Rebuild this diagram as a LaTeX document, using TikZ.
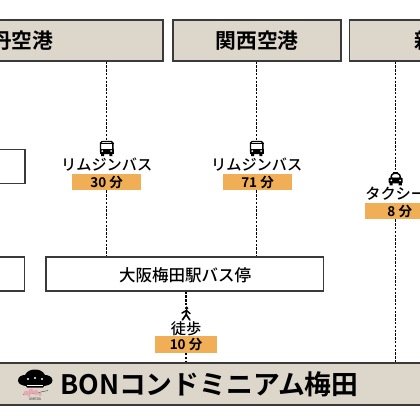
\documentclass[tikz,border=0pt]{standalone}
\usepackage{fontspec}
\setmainfont{Noto Sans CJK JP}[BoldFont={Noto Sans CJK JP Bold}]
\newfontfamily\mediumfont{Noto Sans CJK JP Medium}
\usetikzlibrary{positioning}
\definecolor{sandfill}{HTML}{DDD6CA}
\definecolor{timefill}{HTML}{F0AE56}
\definecolor{edgegray}{HTML}{3A3A3A}
\definecolor{blossom}{HTML}{E9A9B4}
\tikzset{
  airportbox/.style={draw=edgegray, fill=sandfill, line width=1.2pt, minimum height=41pt, inner sep=0pt},
  airportname/.style={text=black, font=\bfseries\fontsize{20.8}{24}\selectfont, inner sep=0pt},
  stopbox/.style={draw=edgegray, fill=white, line width=1.1pt, minimum height=34pt, inner sep=0pt},
  modename/.style={text=black, font=\mediumfont\fontsize{15.2}{18}\selectfont, inner sep=0pt},
  timebox/.style={fill=timefill, minimum width=69.5pt, minimum height=16.5pt, inner sep=0pt, text=black, font=\bfseries\fontsize{13.5}{16}\selectfont},
  iconspot/.style={minimum width=14pt, minimum height=14pt, inner sep=0pt},
  dashline/.style={draw=black, line width=1.1pt, dash pattern=on 2.4pt off 1.4pt},
  busicon/.pic={
    \draw[fill=white, draw=black, line width=1.4pt, rounded corners=1.5pt] (-6.2,-7) rectangle (6.2,5);
    \fill[black] (-6.8,0.8) -- (6.8,0.8) -- (6.8,5) -- (-6.8,5) -- cycle;
    \fill[black] (-7,-5.8) rectangle (7,-4.6);
    \fill[white] (-4.4,2.6) circle (1) (4.4,2.6) circle (1);
    \fill[black] (-5.6,5) rectangle (-2.6,7.5) (2.6,5) rectangle (5.6,7.5);
  },
  taxiicon/.pic={
    \fill[black] (-2.4,-7) rectangle (2.4,-4.6);
    \draw[fill=white, draw=black, line width=1.4pt, rounded corners=1.5pt] (-5,0) -- (-3.6,-5) -- (3.6,-5) -- (5,0) -- cycle;
    \fill[black, rounded corners=1pt] (-7,-0.8) rectangle (7,4.8);
    \fill[white] (-4.4,1.9) circle (1) (4.4,1.9) circle (1);
    \fill[black] (-6.2,4) rectangle (-3,6.8) (3,4) rectangle (6.2,6.8);
  },
  walkicon/.pic={
    \fill[black] (0.6,-5.4) circle (1.8);
    \draw[black, line width=1.5pt, line join=round, line cap=round] (-4,-0.4) -- (0.4,-3) -- (4,0);
    \draw[black, line width=1.7pt, line join=round, line cap=round] (0.4,-3) -- (0.2,1) -- (-3.6,6.4);
    \draw[black, line width=1.7pt, line join=round, line cap=round] (0.2,1) -- (3.8,6.4);
  },
}
\begin{document}
\begin{tikzpicture}[x=1pt, y=-1pt]
    \clip (0,0) rectangle (420,420);
    % top row
    \node[airportbox, minimum width=303pt] (itami) at (11.5,40.5) {};
    \node[airportbox, minimum width=168pt] (kansai) at (257,40.5) {};
    \node[airportbox, minimum width=213pt] (shinosaka) at (456,40.5) {};
    \node[airportname] (itaminame) at (12,41) {伊丹空港};
    \node[airportname] (kansainame) at (257,41) {関西空港};
    \node[airportname] (shinosakaname) at (456,41) {新大阪駅};
    % stops
    \node[stopbox, minimum width=100pt] (upperstop) at (-25,166.5) {};
    \node[stopbox, minimum width=100pt] (lowerstop) at (-25.5,274) {};
    \node[stopbox, minimum width=277.5pt] (busstop) at (184.75,274) {};
    \node[text=black, font=\mediumfont\fontsize{16.5}{20}\selectfont, inner sep=0pt] (busstopname) at (185,275) {大阪梅田駅バス停};
    % bottom bar
    \node[airportbox, minimum width=450pt, minimum height=42pt] (bon) at (210,384) {};
    \node[text=black, font=\bfseries\fontsize{26.8}{30}\selectfont, inner sep=0pt, anchor=west] (bonname) at (60,384.5) {BONコンドミニアム梅田};
    % routes
    \node[iconspot] (itamibus) at (106.7,148.5) {};
    \node[modename] (itamimode) at (106.7,165) {リムジンバス};
    \node[timebox] (itamitime) at (106.7,182) {30 分};
    \node[iconspot] (kansaibus) at (256.7,148.5) {};
    \node[modename] (kansaimode) at (256.7,165) {リムジンバス};
    \node[timebox] (kansaitime) at (257.5,182) {71 分};
    \node[iconspot] (shinosakataxi) at (395.7,178.5) {};
    \node[modename] (shinosakamode) at (395.7,194) {タクシー};
    \node[timebox] (shinosakatime) at (399.75,211) {8 分};
    \node[iconspot] (walk) at (186,313.5) {};
    \node[modename] (walkmode) at (186,328.5) {徒歩};
    \node[timebox, minimum width=62pt] (walktime) at (186,344.5) {10 分};
    \draw[dashline] (itamibus.north |- itami.south) -- (itamibus.north);
    \draw[dashline] (itamitime.south) -- (busstop.north -| itamitime);
    \draw[dashline] (kansaibus.north |- kansai.south) -- (kansaibus.north);
    \draw[dashline] (kansaibus |- kansaitime.south) -- (kansaibus |- busstop.north);
    \draw[dashline] (shinosakataxi.north |- shinosaka.south) -- (shinosakataxi.north);
    \draw[dashline] (shinosakataxi |- shinosakatime.south) -- (shinosakataxi |- bon.north);
    \draw[dashline] (walk.north |- busstop.south) -- (walk.north);
    \draw[dashline] (walktime.south) -- (walktime |- bon.north);
    \pic at (itamibus) {busicon};
    \pic at (kansaibus) {busicon};
    \pic at (shinosakataxi) {taxiicon};
    \pic at (walk) {walkicon};
    % logo
    \fill[black] (18,380.5) .. controls (18,376.5) and (22,375) .. (25,375) .. controls (27,371) and (31,369.5) .. (35,369.5) .. controls (39,369.5) and (43,371) .. (45,375) .. controls (48,375) and (52.5,376.5) .. (52.5,380.5) .. controls (52.5,384.5) and (47,385.5) .. (44,386) -- (43,387.5) -- (27,387.5) -- (26,386) .. controls (23,385.5) and (18,384.5) .. (18,380.5) -- cycle;
    \fill[white] (28,379) circle (1.1) (35,378) circle (1.1) (42,379) circle (1.1);
    \fill[white] (27,384.6) rectangle (43,385.4);
    \draw[edgegray, line width=0.4pt] (23,394.5) -- (34,393.5) -- (48,390.5);
    \fill[blossom] (26,393) circle (2.4) (31,391.5) circle (2.8) (36,392.5) circle (2.6) (40,394.5) circle (1.8) (29,395.5) circle (1.5);
    \node[text=edgegray, font=\fontsize{3.6}{4}\selectfont, inner sep=0pt] (logoname) at (35,399) {UMEDA};
\end{tikzpicture}
\end{document}
